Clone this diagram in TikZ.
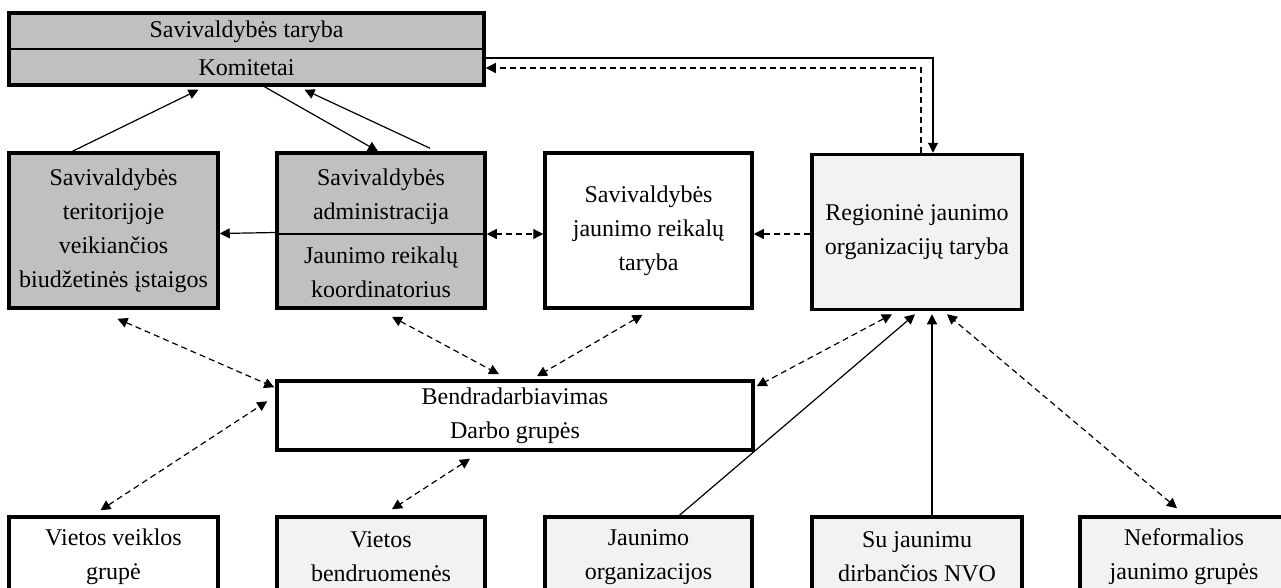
\documentclass[tikz,border=0pt]{standalone}
\usepackage{fontspec}
\setmainfont{Liberation Serif}
\usetikzlibrary{arrows.meta, calc}

\definecolor{darkfill}{RGB}{192,192,192}
\definecolor{lightfill}{RGB}{242,242,242}

\begin{document}
\begin{tikzpicture}[x=1pt, y=-1pt]
\useasboundingbox (0,0) rectangle (1281,587);

\begin{scope}[every node/.style={rectangle, draw, line width=3.5pt, align=center, inner sep=0pt,
                                 font=\fontsize{24}{34}\selectfont}]
    % council and committees
    \node (council) at (246.5, 49) [fill=darkfill, minimum width=475, minimum height=72] {};
    \node (taryba) at (246.5, 32) [draw=none] {Savivaldybės taryba};
    \node (komitetai) at (246.5, 68) [draw=none] {Komitetai};

    % middle row
    \node (local) at (113.5, 230.5) [fill=darkfill, minimum width=209, minimum height=155]
        {Savivaldybės\\teritorijoje\\veikiančios\\biudžetinės įstaigos};
    \node (admin) at (381, 230.5) [fill=darkfill, minimum width=208, minimum height=155] {};
    \node (adminname) at (381, 197) [draw=none] {Savivaldybės\\administracija};
    \node (coordinator) at (381, 272) [draw=none] {Jaunimo reikalų\\koordinatorius};
    \node (youthcouncil) at (648.5, 230.5) [fill=white, minimum width=207, minimum height=155]
        {Savivaldybės\\jaunimo reikalų\\taryba};
    \node (regional) at (917, 232) [fill=lightfill, minimum width=210, minimum height=155]
        {Regioninė jaunimo\\organizacijų taryba};

    \node (cooperation) at (515, 415.5) [fill=white, minimum width=476, minimum height=69]
        {Bendradarbiavimas\\Darbo grupės};

    % bottom row
    \node (lag) at (113.5, 557) [fill=white, minimum width=209, minimum height=80] {Vietos veiklos\\grupė};
    \node (community) at (381, 557) [fill=lightfill, minimum width=208, minimum height=80] {Vietos\\bendruomenės};
    \node (youthorgs) at (648.5, 557) [fill=lightfill, minimum width=207, minimum height=80] {Jaunimo\\organizacijos};
    \node (ngos) at (917, 557) [fill=lightfill, minimum width=210, minimum height=80] {Su jaunimu\\dirbančios NVO};
    \node (informal) at (1184, 557) [fill=lightfill, minimum width=208, minimum height=80] {Neformalios\\jaunimo grupės};
\end{scope}

% dividers
\draw [line width=1.6pt] (council.west) -- (council.east);
\draw [line width=1.6pt] ($(admin.west)+(0,3.5)$) -- ($(admin.east)+(0,3.5)$);

\begin{scope}[>={Triangle[length=10pt, width=10pt]},
              every edge/.style={draw, line width=1.2pt}]
    % solid links
    \path [->] ($(local.north)+(-41,0)$) edge ($(council.south)+(-48,3)$);
    \path [->] ($(council.south)+(18,0)$) edge ($(admin.north)+(-3,0)$);
    \path [->] ($(admin.north)+(49,-3)$) edge ($(council.south)+(58,3)$);
    \draw [->, line width=1.2pt] ($(council.east)+(0,9)$) -| ($(regional.north)+(16,0)$);
    \draw [->, line width=1.2pt, dash pattern=on 6pt off 4pt] ($(regional.north)+(4,0)$) |- ($(council.east)+(0,19)$);
    \path [->] ($(admin.west)+(0,2)$) edge ($(local.east)+(0,3)$);

    % dashed links
    \path [<->, dash pattern=on 6pt off 4pt] ($(admin.east)+(0,3.5)$) edge ($(youthcouncil.west)+(0,3.5)$);
    \path [->, dash pattern=on 6pt off 4pt] ($(regional.west)+(0,2)$) edge ($(youthcouncil.east)+(0,3.5)$);
    \path [<->, dash pattern=on 6pt off 4pt] ($(local.south)+(4,9)$) edge ($(cooperation.north west)+(-1,8)$);
    \path [<->, dash pattern=on 6pt off 4pt] ($(lag.north)+(-13,-5)$) edge ($(cooperation.north west)+(-8,22)$);
    \path [<->, dash pattern=on 6pt off 4pt] ($(admin.south)+(11,7)$) edge ($(cooperation.north)+(-16,-5)$);
    \path [<->, dash pattern=on 6pt off 4pt] ($(youthcouncil.south)+(-6,5)$) edge ($(cooperation.north)+(22,-3)$);
    \path [<->, dash pattern=on 6pt off 4pt] ($(cooperation.south)+(-45,7)$) edge ($(community.north)+(11,-6)$);
    \path [<->, dash pattern=on 6pt off 4pt] ($(regional.south)+(-25,3)$) edge ($(cooperation.north east)+(2,7)$);
    \path [<->, dash pattern=on 6pt off 4pt] ($(informal.north)+(-7,-7)$) edge ($(regional.south)+(30,3)$);

    % youth organisations to regional council
    \path [->] ($(youthorgs.north)+(31,0)$) edge ($(regional.south)+(-2,3)$);
    \path [->] ($(ngos.north)+(15,0)$) edge ($(regional.south)+(15,3)$);
\end{scope}
\end{tikzpicture}
\end{document}
